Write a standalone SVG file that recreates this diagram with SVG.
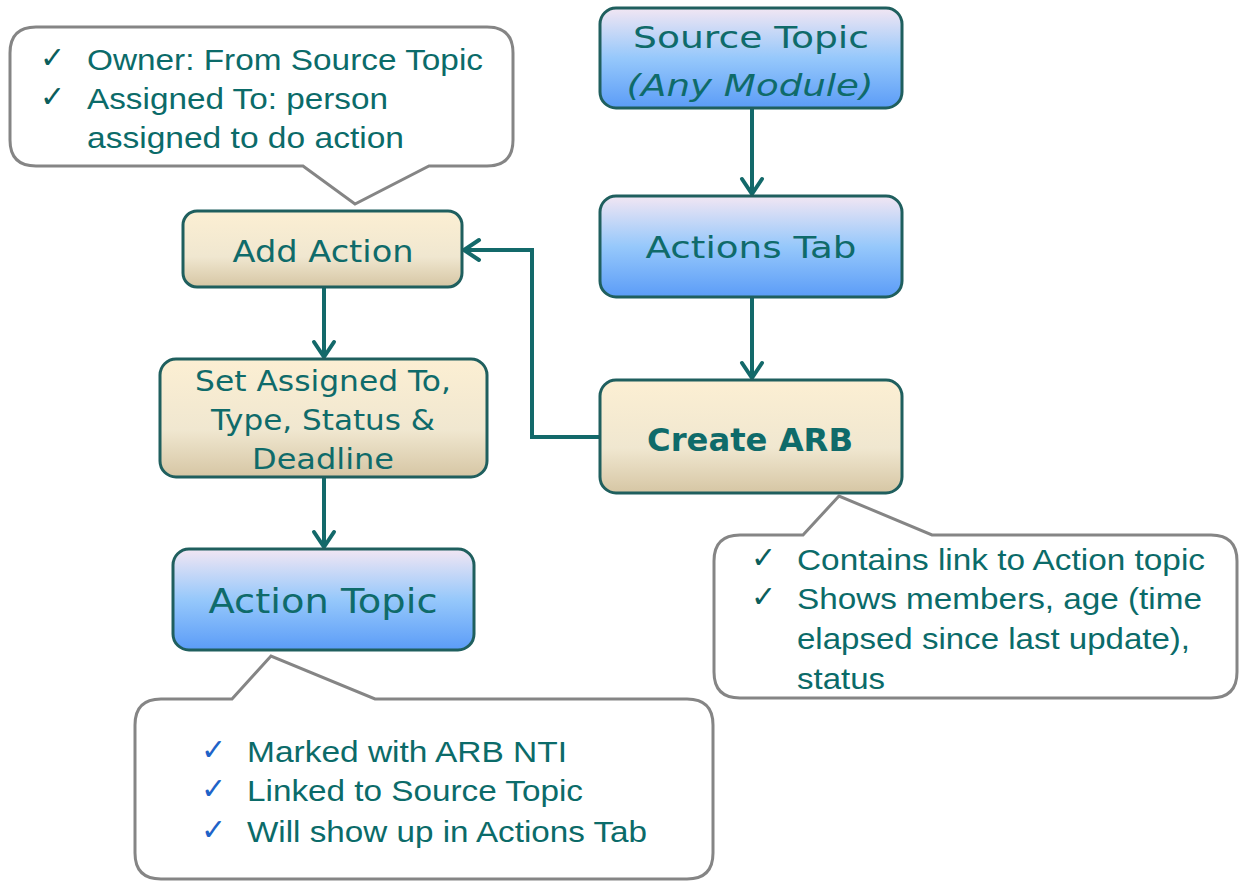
<svg xmlns="http://www.w3.org/2000/svg" width="1239" height="882" viewBox="0 0 1239 882">
  <defs>
    <linearGradient id="gBlue" x1="0" y1="0" x2="0" y2="1">
      <stop offset="0" stop-color="#F2E6F3"/>
      <stop offset="0.5" stop-color="#96C8FB"/>
      <stop offset="1" stop-color="#5B9CF7"/>
    </linearGradient>
    <linearGradient id="gBeige" x1="0" y1="0" x2="0" y2="1">
      <stop offset="0" stop-color="#FCEFD3"/>
      <stop offset="0.6" stop-color="#F0E7D0"/>
      <stop offset="1" stop-color="#D6C6A4"/>
    </linearGradient>
    <marker id="chev" markerUnits="userSpaceOnUse" viewBox="-20 -14 24 28" markerWidth="24" markerHeight="28" refX="0" refY="0" orient="auto">
      <path d="M -15,-10 L 0,0 L -15,10" fill="none" stroke="#13696A" stroke-width="4" stroke-linejoin="miter" stroke-linecap="round"/>
    </marker>
    <style>
      .box { stroke: #1F5F5E; stroke-width: 3; }
      .blue { fill: url(#gBlue); }
      .beige { fill: url(#gBeige); }
      .lbl { font-family: "DejaVu Sans", "Lato", sans-serif; fill: #0F6B6A; text-anchor: middle; }
      .call { fill: #FFFFFF; stroke: #858585; stroke-width: 3; stroke-linejoin: miter; }
      .ct { font-family: "Liberation Sans", Arial, sans-serif; font-size: 30px; fill: #0B6B69; }
      .ck { font-family: "DejaVu Sans", sans-serif; font-size: 30px; fill: #0B5E5C; }
      .ckb { font-family: "DejaVu Sans", sans-serif; font-size: 30px; fill: #1E63C8; }
      .wire { fill: none; stroke: #13696A; stroke-width: 4; marker-end: url(#chev); }
    </style>
  </defs>

  <!-- connectors -->
  <g id="connectors">
    <line class="wire" x1="752" y1="108" x2="752" y2="194"/>
    <line class="wire" x1="752" y1="297" x2="752" y2="378"/>
    <polyline class="wire" points="600,437 532,437 532,250 464,250"/>
    <line class="wire" x1="324" y1="287" x2="324" y2="357"/>
    <line class="wire" x1="324" y1="477" x2="324" y2="547"/>
  </g>

  <!-- callout: owner / assigned -->
  <g id="note-owner">
    <path class="call" d="M 36,27 H 487 Q 513,27 513,53 V 140 Q 513,166 487,166 H 429 L 355,204 L 303,166 H 36 Q 10,166 10,140 V 53 Q 10,27 36,27 Z"/>
    <text class="ck" x="40" y="68">✓</text>
    <text class="ck" x="40" y="107">✓</text>
    <text class="ct" x="87" y="70" textLength="396" lengthAdjust="spacingAndGlyphs">Owner: From Source Topic</text>
    <text class="ct" x="87" y="109" textLength="301" lengthAdjust="spacingAndGlyphs">Assigned To: person</text>
    <text class="ct" x="87" y="148" textLength="317" lengthAdjust="spacingAndGlyphs">assigned to do action</text>
  </g>

  <!-- source topic -->
  <g id="node-source">
    <rect class="box blue" x="600" y="8" width="302" height="100" rx="16"/>
    <text class="lbl" x="751" y="48" font-size="30" textLength="236" lengthAdjust="spacingAndGlyphs">Source Topic</text>
    <text class="lbl" x="750" y="96" font-size="30" font-style="italic" textLength="247" lengthAdjust="spacingAndGlyphs">(Any Module)</text>
  </g>

  <!-- actions tab -->
  <g id="node-actions-tab">
    <rect class="box blue" x="600" y="196" width="302" height="101" rx="16"/>
    <text class="lbl" x="751" y="258" font-size="31" textLength="211" lengthAdjust="spacingAndGlyphs">Actions Tab</text>
  </g>

  <!-- create ARB -->
  <g id="node-create-arb">
    <rect class="box beige" x="600" y="380" width="302" height="113" rx="16"/>
    <text class="lbl" x="750" y="451" font-size="32" font-weight="bold" textLength="206" lengthAdjust="spacingAndGlyphs">Create ARB</text>
  </g>

  <!-- add action -->
  <g id="node-add-action">
    <rect class="box beige" x="183" y="211" width="279" height="76" rx="14"/>
    <text class="lbl" x="323" y="262" font-size="30" textLength="181" lengthAdjust="spacingAndGlyphs">Add Action</text>
  </g>

  <!-- set fields -->
  <g id="node-set-fields">
    <rect class="box beige" x="160" y="359" width="327" height="118" rx="16"/>
    <text class="lbl" x="323" y="391" font-size="29" textLength="256" lengthAdjust="spacingAndGlyphs">Set Assigned To,</text>
    <text class="lbl" x="323" y="430" font-size="29" textLength="224" lengthAdjust="spacingAndGlyphs">Type, Status &amp;</text>
    <text class="lbl" x="323" y="469" font-size="29" textLength="142" lengthAdjust="spacingAndGlyphs">Deadline</text>
  </g>

  <!-- action topic -->
  <g id="node-action-topic">
    <rect class="box blue" x="173" y="549" width="301" height="101" rx="16"/>
    <text class="lbl" x="323" y="613" font-size="33" textLength="229" lengthAdjust="spacingAndGlyphs">Action Topic</text>
  </g>

  <!-- callout: ARB contents -->
  <g id="note-arb">
    <path class="call" d="M 740,535 H 803 L 839,496 L 932,535 H 1211 Q 1237,535 1237,561 V 672 Q 1237,698 1211,698 H 740 Q 714,698 714,672 V 561 Q 714,535 740,535 Z"/>
    <text class="ck" x="751" y="568">✓</text>
    <text class="ck" x="751" y="607">✓</text>
    <text class="ct" x="797" y="570" textLength="408" lengthAdjust="spacingAndGlyphs">Contains link to Action topic</text>
    <text class="ct" x="797" y="609" textLength="405" lengthAdjust="spacingAndGlyphs">Shows members,  age (time</text>
    <text class="ct" x="797" y="649" textLength="393" lengthAdjust="spacingAndGlyphs">elapsed since last update),</text>
    <text class="ct" x="797" y="689" textLength="88" lengthAdjust="spacingAndGlyphs">status</text>
  </g>

  <!-- callout: action topic properties -->
  <g id="note-action-topic">
    <path class="call" d="M 161,699 H 232 L 271,656 L 375,699 H 687 Q 713,699 713,725 V 853 Q 713,879 687,879 H 161 Q 135,879 135,853 V 725 Q 135,699 161,699 Z"/>
    <text class="ckb" x="201" y="760">✓</text>
    <text class="ckb" x="201" y="799">✓</text>
    <text class="ckb" x="201" y="840">✓</text>
    <text class="ct" x="247" y="762" textLength="320" lengthAdjust="spacingAndGlyphs">Marked with ARB NTI</text>
    <text class="ct" x="247" y="801" textLength="336" lengthAdjust="spacingAndGlyphs">Linked to Source Topic</text>
    <text class="ct" x="247" y="842" textLength="400" lengthAdjust="spacingAndGlyphs">Will show up in Actions Tab</text>
  </g>
</svg>
